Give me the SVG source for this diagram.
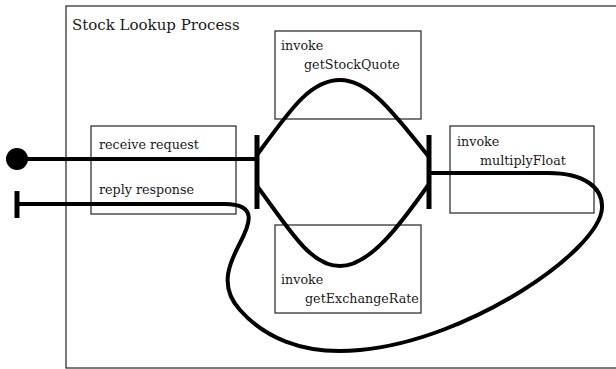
<svg xmlns="http://www.w3.org/2000/svg" width="616" height="369" viewBox="0 0 616 369">
<style>
.box{fill:#fff;stroke:#333;stroke-width:1.3}
text{font-family:'DejaVu Serif','Liberation Serif',serif;font-size:12.7px;fill:#1a1a1a}
.title{font-size:15px}
.c{fill:none;stroke:#000;stroke-width:4;stroke-linecap:butt}
.bar{stroke:#000;stroke-width:5}
</style>
<rect width="616" height="369" fill="#fff"/>
<g id="process">
<rect class="box" x="66" y="6" width="570" height="362" fill="none"/>
<text class="title" x="72" y="30">Stock Lookup Process</text>
</g>
<g id="receive-reply">
<rect class="box" x="91" y="126" width="145" height="88"/>
<text x="99" y="149">receive request</text>
<text x="99" y="194">reply response</text>
</g>
<g id="getStockQuote">
<rect class="box" x="275" y="31" width="146" height="88"/>
<text x="281" y="50">invoke</text>
<text x="304" y="69">getStockQuote</text>
</g>
<g id="getExchangeRate">
<rect class="box" x="275" y="225" width="146" height="88"/>
<text x="281" y="284">invoke</text>
<text x="305" y="303">getExchangeRate</text>
</g>
<g id="multiplyFloat">
<rect class="box" x="450" y="126" width="144" height="87"/>
<text x="457" y="146">invoke</text>
<text x="480" y="165">multiplyFloat</text>
</g>
<g id="start"><circle cx="17" cy="159" r="11" fill="#000"/></g>
<g id="end"><line class="bar" x1="17" y1="191" x2="17" y2="218"/></g>
<g id="fork"><line class="bar" x1="257" y1="135" x2="257" y2="209"/></g>
<g id="join"><line class="bar" x1="429" y1="135" x2="429" y2="209"/></g>
<g id="connectors">
<path class="c" d="M17,159 L257,159"/>
<path class="c" d="M257,155 C290,110 310,80 340,80 C370,80 395,115 429,157"/>
<path class="c" d="M257,186 C290,230 310,266 340,266 C370,266 400,225 429,184"/>
<path class="c" d="M429,173 L548,173 C585,173 603,188 602,208 C600,250 470,340 360,350 C300,356 262,335 240,310 C218,286 230,262 240,243 C250,224 258,204 225,204 L17,204"/>
</g>
</svg>
